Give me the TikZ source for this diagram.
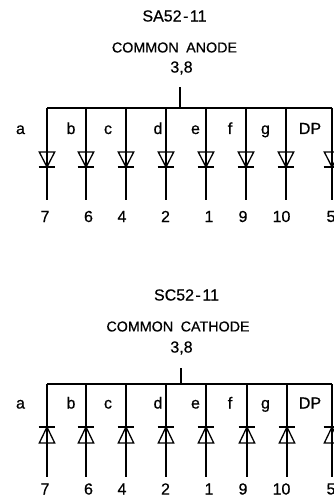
\documentclass[tikz,border=0pt]{standalone}
\usepackage{fontspec}
\setmainfont[FakeBold=0.6]{Liberation Sans}
\begin{document}
\begin{tikzpicture}[x=1pt,y=-1pt,
  wire/.style={draw=black,line width=1.5pt},
  diodeshape/.style={draw=black,line width=1.3pt,line join=miter},
  txt/.style={inner sep=0pt,font=\fontsize{#1}{#1}\selectfont,text=black},
  txt/.default=15]
\useasboundingbox (0,0) rectangle (334,497);
% ---------- common anode ----------
\node[txt=16] (t1) at (174.5,16) {SA52\hspace{1.5pt}-\hspace{1.5pt}11};
\node[txt=14.3] (s1) at (174.5,47.5) {COMMON\hspace{0.25em} ANODE};
\node[txt=16] (p1) at (181.5,68) {3,8};
\coordinate (atop) at (180,87.5);
\coordinate (abus) at (180,108);
\draw[wire] (atop) -- (abus);
\coordinate (aL) at (47,108);
\coordinate (aR) at (332,108);
\draw[wire] (aL) -- (aR);
\foreach \n/\x/\pin/\px in {1/47/7/45,2/86/6/88.5,3/126/4/122,4/166/2/165.5,5/206/1/209,6/246/9/243,7/286/10/281.5,8/332/5/331}{
  \coordinate (ab\n) at (\x,108);
  \coordinate (ak\n) at (\x,167);
  \coordinate (ae\n) at (\x,200.3);
  \node[txt=16] (apin\n) at (\px,216.5) {\pin};
  \draw[wire] (ab\n) -- (ak\n) -- (ae\n);
  \draw[diodeshape] (\x-7.7,152) -- (\x+7.7,152) -- (ak\n) -- cycle;
  \draw[diodeshape] (\x-8.3,167) -- (\x+8.3,167);
}
\foreach \n/\t/\x in {a/a/20.5,b/b/71,c/c/108,d/d/158,e/e/195.5,f/f/230,g/g/265.5,dp/DP/310}{
  \node[txt=16,anchor=base] (al\n) at (\x,134) {\t};
}
% ---------- common cathode ----------
\node[txt=16] (t2) at (186.5,295) {SC52\hspace{1.5pt}-\hspace{1.5pt}11};
\node[txt=14.3] (s2) at (178,326.5) {COMMON\hspace{0.25em} CATHODE};
\node[txt=16] (p2) at (181.5,348) {3,8};
\coordinate (ctop) at (181,368.3);
\coordinate (cbus) at (181,384);
\draw[wire] (ctop) -- (cbus);
\coordinate (cL) at (47,384);
\coordinate (cR) at (332,384);
\draw[wire] (cL) -- (cR);
\foreach \n/\x/\pin/\px in {1/47/7/45,2/86/6/88.5,3/126/4/122,4/166/2/165.5,5/206/1/209,6/247/9/243,7/287/10/281.5,8/332/5/331}{
  \coordinate (cb\n) at (\x,384);
  \coordinate (ck\n) at (\x,427);
  \coordinate (ce\n) at (\x,476.7);
  \node[txt=16] (cpin\n) at (\px,489) {\pin};
  \draw[wire] (cb\n) -- (ck\n) -- (ce\n);
  \draw[diodeshape] (\x-7.7,443) -- (\x+7.7,443) -- (ck\n) -- cycle;
  \draw[diodeshape] (\x-8.3,427) -- (\x+8.3,427);
}
\foreach \n/\t/\x in {a/a/20.5,b/b/71,c/c/108,d/d/158,e/e/195.5,f/f/230,g/g/265.5,dp/DP/310}{
  \node[txt=16,anchor=base] (cl\n) at (\x,408.5) {\t};
}
\end{tikzpicture}
\end{document}
